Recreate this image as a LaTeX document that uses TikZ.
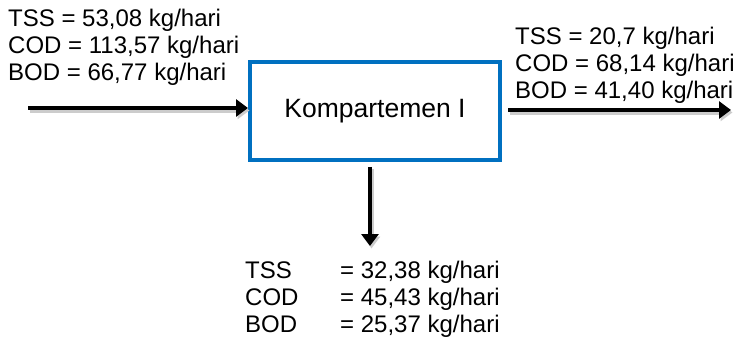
\documentclass[tikz,border=0pt]{standalone}
\usepackage{fontspec}
\setmainfont{Liberation Sans}
\usetikzlibrary{arrows.meta}
\definecolor{boxblue}{RGB}{0,112,192}
\tikzset{
  lbl/.style={anchor=base west, inner sep=0pt, font=\fontsize{24}{27}\selectfont},
  flow/.style={line width=4.5pt, -{Triangle[length=12pt,width=17pt]},
    preaction={draw=black!20, line width=4.5pt, transform canvas={shift={(1.5pt,-2.5pt)}}}},
  comp/.style={draw=boxblue, line width=4pt, fill=white, minimum width=250pt, minimum height=98pt,
    inner sep=0pt, font=\fontsize{26.5}{30}\selectfont}
}
\begin{document}
\begin{tikzpicture}[x=1pt,y=-1pt]
\useasboundingbox (0,0) rectangle (736,339);
% input labels
\node[lbl] (t1) at (8,27) {TSS = 53,08 kg/hari};
\node[lbl] (c1) at (8,54) {COD = 113,57 kg/hari};
\node[lbl] (b1) at (8,81) {BOD = 66,77 kg/hari};
% output labels right
\node[lbl] (t2) at (515,45) {TSS = 20,7 kg/hari};
\node[lbl] (c2) at (515,72) {COD = 68,14 kg/hari};
\node[lbl] (b2) at (515,99) {BOD = 41,40 kg/hari};
% bottom labels
\node[lbl] (t3) at (245,278) {TSS};
\node[lbl] (c3) at (245,305) {COD};
\node[lbl] (b3) at (245,332) {BOD};
\node[lbl] (t3v) at (340,278) {= 32,38 kg/hari};
\node[lbl] (c3v) at (340,305) {= 45,43 kg/hari};
\node[lbl] (b3v) at (340,332) {= 25,37 kg/hari};
% box
\node[comp] (box) at (375,111) {Kompartemen I};
% connectors
\coordinate (lin) at (28,108);
\coordinate (rs) at (508,110);
\coordinate (rout) at (731,110);
\coordinate (dout) at (370,246);
\draw[flow] (lin) -- (lin -| box.west);
\draw[flow] (rs) -- (rout);
\draw[flow] ([yshift=-5pt]box.south -| dout) -- (dout);
\end{tikzpicture}
\end{document}
